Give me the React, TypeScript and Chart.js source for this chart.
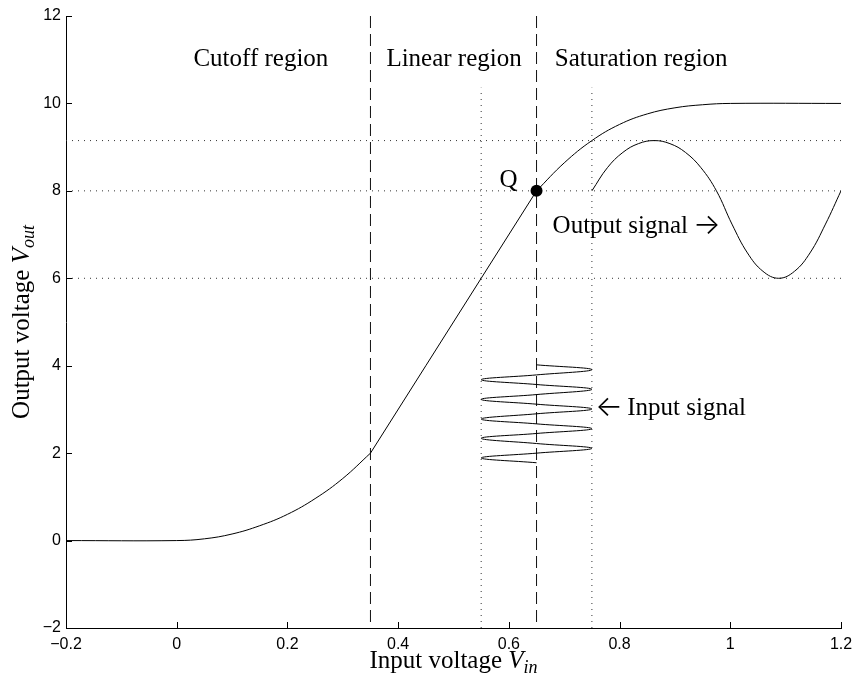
import React, { useEffect, useRef } from 'react';
import { Chart, registerables } from 'chart.js';

Chart.register(...registerables);

// Axis ticks
const xTicks = [-0.2, 0, 0.2, 0.4, 0.6, 0.8, 1, 1.2];
const xTickLabels = ['\u22120.2', '0', '0.2', '0.4', '0.6', '0.8', '1', '1.2'];
const yTicks = [-2, 0, 2, 4, 6, 8, 10, 12];
const yTickLabels = ['\u22122', '0', '2', '4', '6', '8', '10', '12'];

// Transfer characteristic
const cutoffX = [-0.2, 0, 0.05, 0.1, 0.15, 0.2, 0.25, 0.3, 0.35];
const cutoffY = [0, 0, 0.04, 0.15, 0.34, 0.6, 0.96, 1.42, 2.0];
const linearX = [0.35, 0.45, 0.55, 0.65];
const linearY = [2, 4, 6, 8];
const saturationX = [0.65, 0.7, 0.75, 0.8, 0.85, 0.9, 0.95, 1.0, 1.2];
const saturationY = [8, 8.64, 9.15, 9.52, 9.76, 9.9, 9.97, 10, 10];

// Output signal
const outputX = [0.75, 0.778, 0.806, 0.834, 0.8625, 0.891, 0.919, 0.947, 0.975, 1.003, 1.031, 1.059, 1.0875, 1.116, 1.144, 1.172, 1.2];
const outputY = [8, 8.53, 8.88, 9.08, 9.15, 9.08, 8.88, 8.53, 8, 7.24, 6.58, 6.16, 6.0, 6.16, 6.58, 7.24, 8];

// Input signal (drawn vertically)
const inputX = [0.65, 0.75, 0.65, 0.55, 0.65, 0.75, 0.65, 0.55, 0.65, 0.75, 0.65, 0.55, 0.65, 0.75, 0.65, 0.55, 0.65, 0.75, 0.65, 0.55, 0.65];
const inputY = [4.02, 3.91, 3.79, 3.68, 3.57, 3.46, 3.34, 3.23, 3.12, 3.01, 2.9, 2.78, 2.67, 2.56, 2.45, 2.34, 2.22, 2.11, 2.0, 1.89, 1.78];

// Operating point
const qX = 0.65;
const qY = 8;

// Reference lines
const boundaryX = [0.35, 0.65];
const inputLimitsX = [0.55, 0.75];
const inputLimitTop = 10.36;
const outputLevelsY = [6, 8, 9.15];

// Texts
const regionLabels = ['Cutoff region', 'Linear region', 'Saturation region'];
const regionLabelX = [0.152, 0.501, 0.839];
const regionLabelY = 10.86;

const SERIF = '"Liberation Serif", "Times New Roman", serif';
const ARROW_FONT = '300 29px Inter, "DejaVu Sans", sans-serif';
const FS = 25;
const SUB = 18;

function drawMathLabel(ctx: CanvasRenderingContext2D, plain: string, sym: string, sub: string, cx: number, base: number) {
  ctx.font = `${FS}px ${SERIF}`;
  const w1 = ctx.measureText(plain).width;
  ctx.font = `italic ${FS}px ${SERIF}`;
  const w2 = ctx.measureText(sym).width;
  ctx.font = `italic ${SUB}px ${SERIF}`;
  const w3 = ctx.measureText(sub).width;
  let sx = cx - (w1 + w2 + w3) / 2;
  ctx.textAlign = 'left';
  ctx.textBaseline = 'alphabetic';
  ctx.font = `${FS}px ${SERIF}`;
  ctx.fillText(plain, sx, base);
  sx += w1;
  ctx.font = `italic ${FS}px ${SERIF}`;
  ctx.fillText(sym, sx, base);
  sx += w2;
  ctx.font = `italic ${SUB}px ${SERIF}`;
  ctx.fillText(sub, sx, base + 5);
}

const annotate = {
  id: 'annotate',
  afterDraw(chart: any) {
    const { ctx, chartArea: a, scales } = chart;
    const xs = scales.x;
    const ys = scales.y;
    ctx.save();
    // inward tick marks
    ctx.strokeStyle = '#000';
    ctx.lineWidth = 1;
    ctx.beginPath();
    xTicks.forEach((v) => {
      const px = Math.round(xs.getPixelForValue(v)) + 0.5;
      ctx.moveTo(px, a.bottom);
      ctx.lineTo(px, a.bottom - 6);
    });
    yTicks.forEach((v) => {
      const py = Math.round(ys.getPixelForValue(v)) + 0.5;
      ctx.moveTo(a.left, py);
      ctx.lineTo(a.left + 6, py);
    });
    ctx.stroke();

    ctx.fillStyle = '#000';
    ctx.textBaseline = 'alphabetic';
    ctx.font = `${FS}px ${SERIF}`;
    // region labels
    ctx.textAlign = 'center';
    regionLabels.forEach((t, i) => {
      ctx.fillText(t, xs.getPixelForValue(regionLabelX[i]), ys.getPixelForValue(regionLabelY));
    });
    // Q label
    ctx.textAlign = 'right';
    ctx.fillText('Q', xs.getPixelForValue(qX) - 19, ys.getPixelForValue(qY) - 4);

    // Output signal label with arrow
    ctx.textAlign = 'left';
    const ox = xs.getPixelForValue(0.679);
    const oy = ys.getPixelForValue(7.04);
    ctx.font = `${FS}px ${SERIF}`;
    ctx.fillText('Output signal', ox, oy);
    const ow = ctx.measureText('Output signal').width;
    ctx.font = ARROW_FONT;
    ctx.fillText('\u2192', ox + ow + 5, oy + 1);

    // Input signal label with arrow
    const ix = xs.getPixelForValue(0.756);
    const iy = ys.getPixelForValue(2.87);
    ctx.font = ARROW_FONT;
    ctx.fillText('\u2190', ix, iy + 1);
    ctx.font = `${FS}px ${SERIF}`;
    ctx.fillText('Input signal', ix + 32, iy);

    // axis titles
    drawMathLabel(ctx, 'Input voltage ', 'V', 'in', (a.left + a.right) / 2, 668);
    ctx.save();
    ctx.translate(29, (a.top + a.bottom) / 2);
    ctx.rotate(-Math.PI / 2);
    drawMathLabel(ctx, 'Output voltage ', 'V', 'out', 0, 0);
    ctx.restore();

    ctx.restore();
  },
};

export default function App() {
  const ref = useRef<HTMLCanvasElement>(null);

  useEffect(() => {
    const canvas = ref.current;
    if (!canvas) return;
    const pts = (xsArr: number[], ysArr: number[]) => xsArr.map((x, i) => ({ x, y: ysArr[i] }));
    const curve = (data: any[], extra: any = {}) => ({
      data,
      showLine: true,
      borderColor: '#000',
      borderWidth: 1,
      pointRadius: 0,
      tension: 0,
      fill: false,
      ...extra,
    });
    const dotted = { borderDash: [1, 5], borderColor: '#333', borderWidth: 1 };
    const datasets: any[] = [
      {
        data: [{ x: qX, y: qY }],
        showLine: false,
        pointRadius: 6,
        pointBackgroundColor: '#000',
        pointBorderColor: '#000',
        pointBorderWidth: 0,
      },
      curve(pts(cutoffX, cutoffY), { tension: 0.4 }),
      curve(pts(linearX, linearY)),
      curve(pts(saturationX, saturationY), { tension: 0.4 }),
      curve(pts(outputX, outputY), { tension: 0.4 }),
      curve(pts(inputX, inputY), { tension: 0.4 }),
      ...boundaryX.map((x) => curve([{ x, y: 12 }, { x, y: -2 }], { borderDash: [12, 6], borderColor: '#111' })),
      ...inputLimitsX.map((x) => curve([{ x, y: -2 }, { x, y: inputLimitTop }], dotted)),
      ...outputLevelsY.map((y) => curve([{ x: -0.2, y }, { x: 1.2, y }], dotted)),
    ];

    const tickFont = { family: '"Liberation Sans", Arial, sans-serif', size: 16 };
    const chart = new Chart(canvas, {
      type: 'scatter',
      data: { datasets },
      options: {
        responsive: false,
        animation: false,
        devicePixelRatio: 1,
        events: [],
        layout: { padding: { top: 16, right: 22, left: 0, bottom: 0 } },
        plugins: { legend: { display: false }, tooltip: { enabled: false } },
        scales: {
          x: {
            type: 'linear',
            min: -0.2,
            max: 1.2,
            afterBuildTicks: (s: any) => {
              s.ticks = xTicks.map((v) => ({ value: v }));
            },
            afterFit: (s: any) => {
              s.height = 51;
            },
            grid: { display: false, drawTicks: false },
            border: { display: true, color: '#000', width: 1 },
            ticks: {
              color: '#000',
              font: tickFont,
              padding: 7,
              maxRotation: 0,
              autoSkip: false,
              callback: (_v: any, i: number) => xTickLabels[i],
            },
          },
          y: {
            type: 'linear',
            min: -2,
            max: 12,
            afterBuildTicks: (s: any) => {
              s.ticks = yTicks.map((v) => ({ value: v }));
            },
            afterFit: (s: any) => {
              s.width = 66;
            },
            grid: { display: false, drawTicks: false },
            border: { display: true, color: '#000', width: 1 },
            ticks: {
              color: '#000',
              font: tickFont,
              padding: 5,
              autoSkip: false,
              callback: (_v: any, i: number) => yTickLabels[i],
            },
          },
        },
      } as any,
      plugins: [annotate],
    });
    return () => chart.destroy();
  }, []);

  return (
    <div style={{ position: 'fixed', left: 0, top: 0, width: 863, height: 679, background: '#fff' }}>
      <canvas ref={ref} width={863} height={679} style={{ display: 'block' }} />
    </div>
  );
}
